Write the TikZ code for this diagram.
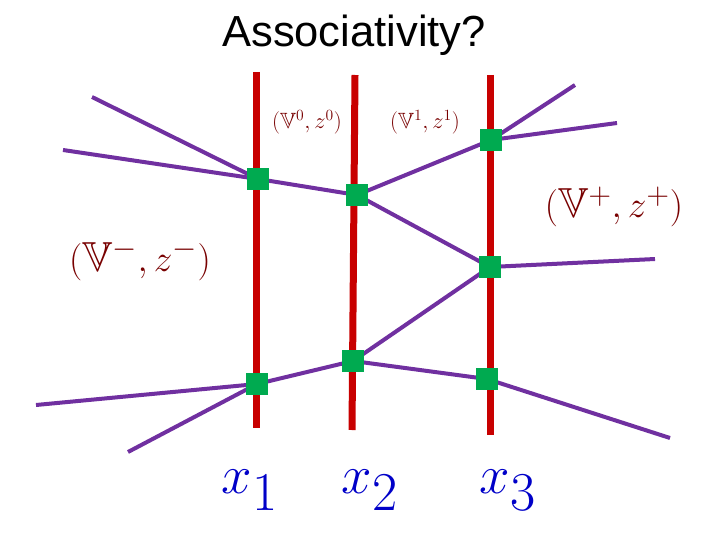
\documentclass[tikz,border=0pt]{standalone}
\usepackage{amssymb}
\usepackage{fontspec}
\setsansfont{Liberation Sans}
\definecolor{rd}{RGB}{200,0,0}
\definecolor{pu}{RGB}{112,48,160}
\definecolor{gr}{RGB}{0,170,80}
\definecolor{lab}{RGB}{120,0,0}
\definecolor{bl}{RGB}{0,0,200}
\begin{document}
\begin{tikzpicture}[x=1pt,y=-1pt,
  wire/.style={pu,line width=4pt},
  pole/.style={rd,line width=7pt},
  sq/.style={fill=gr,minimum size=22pt,inner sep=0pt},
  lbl/.style={lab,inner sep=0pt}]
\useasboundingbox (0,0) rectangle (720,540);
\coordinate (r1a) at (256,72); \coordinate (r1b) at (256,428);
\coordinate (r2a) at (355,75); \coordinate (r2b) at (352,430);
\coordinate (r3a) at (490,75); \coordinate (r3b) at (490,435);
\coordinate (A) at (258,179); \coordinate (B) at (357,195);
\coordinate (C) at (491,140); \coordinate (D) at (490,267);
\coordinate (E) at (257,384); \coordinate (F) at (353,361);
\coordinate (G) at (487,379);
\coordinate (p1) at (92,97); \coordinate (p2) at (63,150);
\coordinate (p3) at (617,123); \coordinate (p4) at (575,85);
\coordinate (p5) at (655,259); \coordinate (p6) at (36,405);
\coordinate (p7) at (128,452); \coordinate (p8) at (670,438);
\draw[wire] (p1)--(A); \draw[wire] (p2)--(A); \draw[wire] (A)--(B);
\draw[wire] (B)--(C); \draw[wire] (C)--(p3); \draw[wire] (C)--(p4);
\draw[wire] (B)--(D); \draw[wire] (D)--(p5); \draw[wire] (D)--(F);
\draw[wire] (F)--(E); \draw[wire] (E)--(p6); \draw[wire] (E)--(p7);
\draw[wire] (F)--(G); \draw[wire] (G)--(p8);
\draw[pole] (r1a)--(r1b); \draw[pole] (r2a)--(r2b); \draw[pole] (r3a)--(r3b);
\foreach \n in {A,B,C,D,E,F,G} \node[sq] (s\n) at (\n) {};
\node[scale=1.45] (t) at (354,35) {\fontsize{30}{34}\selectfont\sffamily Associativity?};
\node[lbl,scale=1.3] (l0) at (307,122) {\fontsize{17}{20}\selectfont$(\mathbb{V}^0,z^0)$};
\node[lbl,scale=1.3] (l1) at (425,122) {\fontsize{17}{20}\selectfont$(\mathbb{V}^1,z^1)$};
\node[lbl,scale=1.5] (lp) at (614,207) {\fontsize{28}{32}\selectfont$(\mathbb{V}^+,z^+)$};
\node[lbl,scale=1.5] (lm) at (140,260) {\fontsize{28}{32}\selectfont$(\mathbb{V}^-,z^-)$};
\node[bl,scale=2.2] (x1) at (250,490) {\fontsize{44}{50}\selectfont$x_1$};
\node[bl,scale=2.2] (x2) at (370,490) {\fontsize{44}{50}\selectfont$x_2$};
\node[bl,scale=2.2] (x3) at (508,490) {\fontsize{44}{50}\selectfont$x_3$};
\end{tikzpicture}
\end{document}
